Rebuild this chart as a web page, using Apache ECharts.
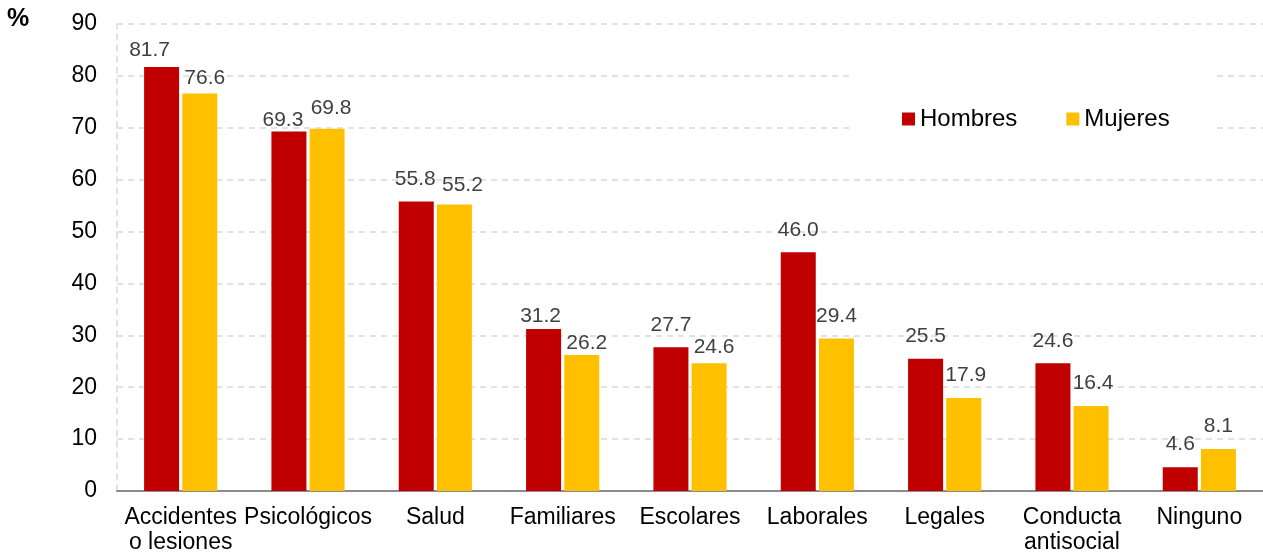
<!DOCTYPE html>
<html>
<head>
<meta charset="utf-8">
<script src="https://cdn.jsdelivr.net/npm/echarts@6/dist/echarts.min.js"></script>
<style>
  html, body { margin: 0; padding: 0; background: #fff; }
  #chart { width: 1263px; height: 557px; }
</style>
</head>
<body>
<div id="chart"></div>
<script>
const categories = [
  "Accidentes\no lesiones", "Psicológicos", "Salud", "Familiares", "Escolares",
  "Laborales", "Legales", "Conducta\nantisocial", "Ninguno"
];
const hombres = [81.7, 69.3, 55.8, 31.2, 27.7, 46.0, 25.5, 24.6, 4.6];
const mujeres = [76.6, 69.8, 55.2, 26.2, 24.6, 29.4, 17.9, 16.4, 8.1];
const yTicks = [0, 10, 20, 30, 40, 50, 60, 70, 80, 90];

// labels that were dragged by hand in the original
const nudgeH = { 0: [-12, 6], 1: [-6, 11], 2: [-1, 0], 3: [-3, 10] };
const nudgeM = { 0: [5, 7], 1: [4, 2], 2: [8, 3], 3: [5, 11], 4: [5, 6], 6: [2, 0], 7: [2, 0] };

const font = "'Liberation Sans', Arial, sans-serif";

function withLabels(values, nudge) {
  return values.map((v, i) => {
    const item = { value: v };
    if (nudge[i]) item.label = { offset: nudge[i] };
    return item;
  });
}

const chart = echarts.init(document.getElementById("chart"));

const barLabel = {
  show: true,
  position: "top",
  distance: 12,
  color: "#404040",
  fontFamily: font,
  fontSize: 21,
  formatter: (p) => p.value.toFixed(1),
};

chart.setOption({
  animation: false,
  textStyle: { fontFamily: font },
  graphic: [
    {
      type: "text",
      left: 7,
      top: 7,
      style: { text: "%", fontFamily: font, fontSize: 25, fontWeight: "bold", fill: "#000" },
    },
  ],
  legend: {
    data: ["Hombres", "Mujeres"],
    left: 852,
    top: 67,
    padding: [40, 42, 40, 50],
    backgroundColor: "#fff",
    itemWidth: 13,
    itemHeight: 13,
    itemGap: 49,
    icon: "rect",
    textStyle: { fontSize: 24, color: "#000", fontFamily: font },
    z: 10,
  },
  grid: { left: 117, right: 0, top: 24, bottom: 66 },
  xAxis: {
    type: "category",
    data: categories,
    axisLine: { lineStyle: { color: "#8c8c8c", width: 2 } },
    axisTick: { show: false },
    axisLabel: { color: "#000", fontSize: 23, lineHeight: 25, margin: 14, interval: 0 },
  },
  yAxis: {
    type: "value",
    min: yTicks[0],
    max: yTicks[yTicks.length - 1],
    interval: 10,
    axisLine: { show: true, lineStyle: { color: "#d9d9d9", type: [6, 5], width: 1.5 } },
    axisTick: { show: false },
    axisLabel: { color: "#000", fontSize: 23, margin: 20 },
    splitLine: { lineStyle: { color: "#d9d9d9", type: [6, 5], width: 1.5 } },
  },
  series: [
    {
      name: "Hombres",
      type: "bar",
      data: withLabels(hombres, nudgeH),
      barWidth: 35,
      barGap: "9%",
      itemStyle: { color: "#C00000" },
      label: barLabel,
    },
    {
      name: "Mujeres",
      type: "bar",
      data: withLabels(mujeres, nudgeM),
      barWidth: 35,
      itemStyle: { color: "#FFC000" },
      label: barLabel,
    },
  ],
});
</script>
</body>
</html>
